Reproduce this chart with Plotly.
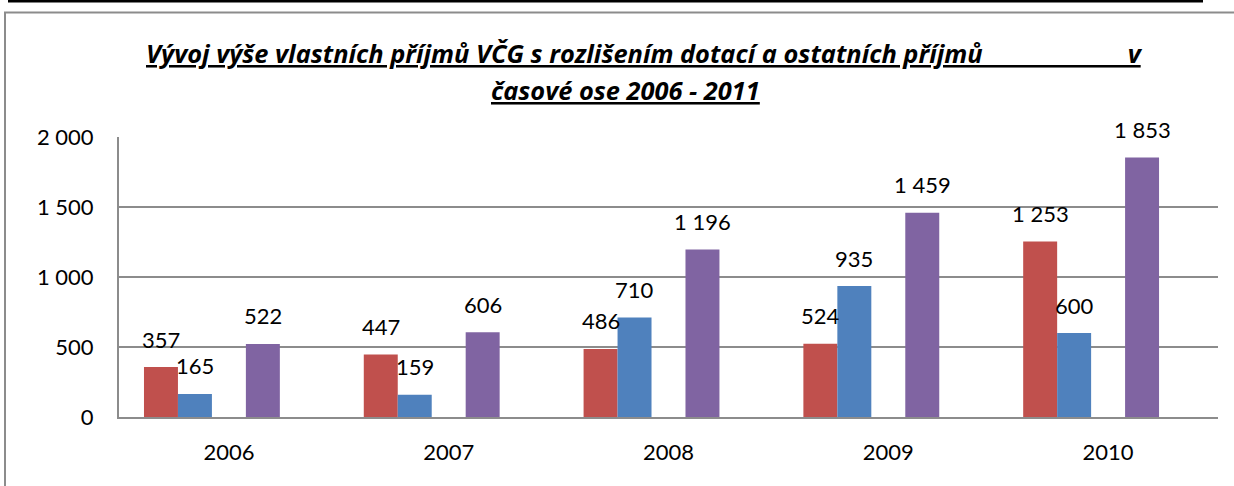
import plotly.graph_objects as go

years = ["2006", "2007", "2008", "2009", "2010"]
red_vals = [357, 447, 486, 524, 1253]
blue_vals = [165, 159, 710, 935, 600]
empty_vals = [None, None, None, None, None]
purple_vals = [522, 606, 1196, 1459, 1853]
y_ticks = [0, 500, 1000, 1500, 2000]

title_line1 = "Vývoj výše vlastních příjmů VČG s rozlišením dotací a ostatních příjmů"
title_line2 = "časové ose 2006 - 2011"

W, H = 1234, 486
L, R, T, B = 119, 16, 137, 69
PW, PH = W - L - R, H - T - B


def px_x(x):
    return (x - L) / PW


def px_y(y):
    return (H - B - y) / PH


def fmt(v):
    return f"{v:,}".replace(",", " ")


series = [
    ("Řada 1", red_vals, "#C0504D"),
    ("Řada 2", blue_vals, "#4F81BD"),
    ("Řada 3", empty_vals, "#9BBB59"),
    ("Řada 4", purple_vals, "#8064A2"),
    ("Řada 5", empty_vals, "#4BACC6"),
]

fig = go.Figure()
for name, vals, col in series:
    fig.add_trace(go.Bar(x=years, y=vals, name=name, marker_color=col,
                         marker_line_width=0))

bargap = 50 / 220
nslots = len(series)
slot_w = (1 - bargap) / nslots
annots = []
for k, (name, vals, col) in enumerate(series):
    off = -(1 - bargap) / 2 + (k + 0.5) * slot_w
    for i, v in enumerate(vals):
        if v is None:
            continue
        annots.append(dict(x=i + off, y=v, xref="x", yref="y", text=fmt(v),
                           showarrow=False, yanchor="middle", yshift=28,
                           font=dict(family="Lato", size=22, color="black")))

nb = "\u00a0"
TF = dict(family="Open Sans", size=25.4, color="black")
annots.append(dict(xref="paper", yref="paper", x=px_x(144), y=px_y(53),
                   xanchor="left", yanchor="middle", showarrow=False,
                   text="<b><i><u>" + title_line1 + nb * 22 + "v</u></i></b>",
                   font=TF))
annots.append(dict(xref="paper", yref="paper", x=px_x(625), y=px_y(90),
                   xanchor="center", yanchor="middle", showarrow=False,
                   text="<b><i><u>" + title_line2 + "</u></i></b>",
                   font=TF))

shapes = [
    # black top rule
    dict(type="line", xref="paper", yref="paper", x0=px_x(8), x1=px_x(1203),
         y0=px_y(1), y1=px_y(1), line=dict(color="black", width=3)),
    # gray frame top and left
    dict(type="line", xref="paper", yref="paper", x0=px_x(4), x1=px_x(1240),
         y0=px_y(12.5), y1=px_y(12.5), line=dict(color="#8c8c8c", width=2)),
    dict(type="line", xref="paper", yref="paper", x0=px_x(5), x1=px_x(5),
         y0=px_y(12), y1=px_y(490), line=dict(color="#8c8c8c", width=2)),
]

fig.update_layout(
    width=W, height=H,
    margin=dict(l=L, r=R, t=T, b=B, autoexpand=False),
    paper_bgcolor="white", plot_bgcolor="white",
    barmode="group", bargap=bargap, bargroupgap=0,
    showlegend=False,
    separators=", ",
    font=dict(family="Lato", size=22, color="black"),
    annotations=annots,
    shapes=shapes,
    xaxis=dict(type="category", showline=True, linecolor="#8c8c8c", linewidth=2,
               showgrid=False, ticks="", ticklabelstandoff=15,
               tickfont=dict(family="Lato", size=22, color="black")),
    yaxis=dict(range=[0, 2000], tickvals=y_ticks, separatethousands=True,
               showline=True, linecolor="#8c8c8c", linewidth=2,
               showgrid=True, gridcolor="#8c8c8c", gridwidth=2,
               zeroline=False, ticks="", ticklabelstandoff=19,
               tickfont=dict(family="Lato", size=22, color="black")),
)

fig.write_html("out.html", config={"displayModeBar": False},
               post_script="document.body.style.margin='0';document.body.style.overflow='hidden';")
